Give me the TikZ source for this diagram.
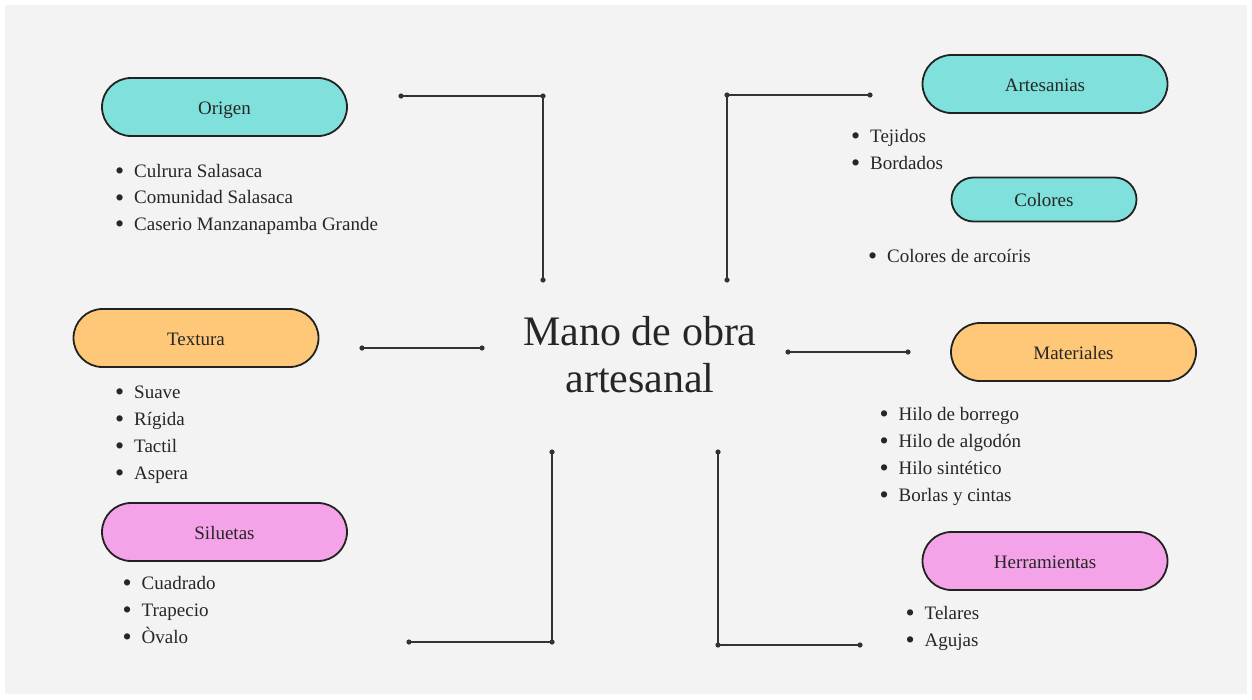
\documentclass[tikz,border=0pt]{standalone}
\usepackage{fontspec}
\setmainfont{Liberation Serif}
\definecolor{bgGray}{HTML}{F3F3F3}
\definecolor{cTeal}{HTML}{80E0DB}
\definecolor{cOrange}{HTML}{FFC878}
\definecolor{cPink}{HTML}{F5A3E8}
\definecolor{ink}{HTML}{262626}
\definecolor{edge}{HTML}{222222}
\definecolor{wire}{HTML}{333333}
\newcommand{\itm}[1]{\raisebox{-2.5pt}{\fontsize{26}{26}\selectfont\textbullet}\hspace{9.9pt}#1}
\tikzset{
  pill/.style={draw=edge, line width=1.8pt, rounded corners=29pt, minimum width=245pt, minimum height=58pt, inner sep=0pt, text height=18pt, text depth=4pt, text=ink, font=\fontsize{19}{22}\selectfont},
  smallpill/.style={pill, rounded corners=22pt, minimum width=185pt, minimum height=44pt},
  item/.style={anchor=base west, inner sep=0pt, text=ink, font=\fontsize{19}{22}\selectfont},
  title/.style={anchor=base, inner sep=0pt, text=ink, font=\fontsize{42}{47}\selectfont},
  wireline/.style={draw=wire, line width=1.8pt},
  dot/.style={fill=wire}
}
\begin{document}
\begin{tikzpicture}[x=1pt,y=-1pt]
\useasboundingbox (0,0) rectangle (1252,699);
\fill[white] (0,0) rectangle (1252,699);
\fill[bgGray] (5,5) rectangle (1247,694);

% title
\node[title] (t1) at (640,345) {Mano de obra};
\node[title] (t2) at (640,392) {artesanal};

% boxes
\node[pill, fill=cTeal] (origen) at (224.5,107) {Origen};
\node[pill, fill=cTeal] (artes) at (1045,84) {Artesanias};
\node[smallpill, fill=cTeal] (colores) at (1044,199.5) {Colores};
\node[pill, fill=cOrange] (textura) at (196,338) {Textura};
\node[pill, fill=cOrange] (mater) at (1073.5,352) {Materiales};
\node[pill, fill=cPink] (silue) at (224.5,532) {Siluetas};
\node[pill, fill=cPink] (herra) at (1045,561) {Herramientas};

% lists
\node[item] (o1) at (115,177) {\itm{Culrura Salasaca}};
\node[item] (o2) at (115,203.5) {\itm{Comunidad Salasaca}};
\node[item] (o3) at (115,230) {\itm{Caserio Manzanapamba Grande}};

\node[item] (a1) at (851,142) {\itm{Tejidos}};
\node[item] (a2) at (851,169) {\itm{Bordados}};
\node[item] (c1) at (868,262) {\itm{Colores de arcoíris}};

\node[item] (x1) at (115,398) {\itm{Suave}};
\node[item] (x2) at (115,425) {\itm{Rígida}};
\node[item] (x3) at (115,452) {\itm{Tactil}};
\node[item] (x4) at (115,479) {\itm{Aspera}};

\node[item] (s1) at (122.5,589) {\itm{Cuadrado}};
\node[item] (s2) at (122.5,616) {\itm{Trapecio}};
\node[item] (s3) at (122.5,643) {\itm{Òvalo}};

\node[item] (m1) at (879.5,420) {\itm{Hilo de borrego}};
\node[item] (m2) at (879.5,447) {\itm{Hilo de algodón}};
\node[item] (m3) at (879.5,474) {\itm{Hilo sintético}};
\node[item] (m4) at (879.5,501) {\itm{Borlas y cintas}};

\node[item] (h1) at (905.5,619) {\itm{Telares}};
\node[item] (h2) at (905.5,646) {\itm{Agujas}};

% connector points
\coordinate (tlA) at (401,96);
\coordinate (tlB) at (543,96);
\coordinate (tlC) at (543,280);
\coordinate (trA) at (870,95);
\coordinate (trB) at (727,95);
\coordinate (trC) at (727,280);
\coordinate (mlA) at (362,348);
\coordinate (mlB) at (482,348);
\coordinate (mrA) at (788,352);
\coordinate (mrB) at (908,352);
\coordinate (blA) at (552,452);
\coordinate (blB) at (552,642);
\coordinate (blC) at (409,642);
\coordinate (brA) at (718,452);
\coordinate (brB) at (718,645);
\coordinate (brC) at (860,645);

\draw[wireline] (tlA) -- (tlB) -- (tlC);
\draw[wireline] (trA) -- (trB) -- (trC);
\draw[wireline] (mlA) -- (mlB);
\draw[wireline] (mrA) -- (mrB);
\draw[wireline] (blA) -- (blB) -- (blC);
\draw[wireline] (brA) -- (brB) -- (brC);

\foreach \p in {tlA,tlB,tlC,trA,trB,trC,mlA,mlB,mrA,mrB,blA,blB,blC,brA,brB,brC}
  \fill[dot] (\p) circle (2.6pt);
\end{tikzpicture}
\end{document}
